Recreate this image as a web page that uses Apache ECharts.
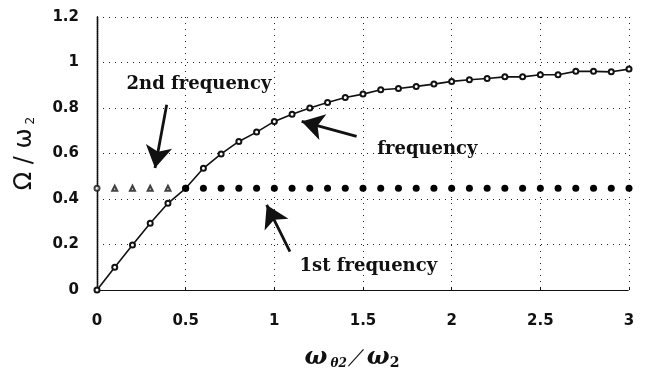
<!DOCTYPE html>
<html><head><meta charset="utf-8">
<script src="https://cdn.jsdelivr.net/npm/echarts@6/dist/echarts.min.js"></script>
<style>html,body{margin:0;padding:0;background:#fff}#c{width:647px;height:376px}</style>
</head><body><div id="c"></div>
<script>
const xValues = [0,0.1,0.2,0.3,0.4,0.5,0.6,0.7,0.8,0.9,1.0,1.1,1.2,1.3,1.4,1.5,1.6,1.7,1.8,1.9,2.0,2.1,2.2,2.3,2.4,2.5,2.6,2.7,2.8,2.9,3.0];
const curveValues = [0,0.10,0.198,0.293,0.381,0.447,0.535,0.598,0.653,0.694,0.741,0.773,0.800,0.824,0.846,0.861,0.880,0.886,0.895,0.905,0.917,0.924,0.930,0.937,0.937,0.946,0.946,0.961,0.961,0.959,0.971];
const flatLevel = 0.447;
const secondX = [0.1,0.2,0.3,0.4];
const startX = [0];
const firstX = [0.5,0.6,0.7,0.8,0.9,1.0,1.1,1.2,1.3,1.4,1.5,1.6,1.7,1.8,1.9,2.0,2.1,2.2,2.3,2.4,2.5,2.6,2.7,2.8,2.9,3.0];
const xTicks = [0,0.5,1,1.5,2,2.5,3];
const yTicks = [0,0.2,0.4,0.6,0.8,1,1.2];
// annotation arrows: [tailX, tailY, tipX, tipY] in data units
const arrows = [[0.393,0.814,0.327,0.536],[1.464,0.675,1.154,0.741],[1.088,0.169,0.957,0.374]];
const notes = [{text:'2nd frequency',x:0.575,y:0.904},{text:'frequency',x:1.863,y:0.618},{text:'1st frequency',x:1.53,y:0.103}];

const chart = echarts.init(document.getElementById('c'));
const tickFont = {fontFamily:'DejaVu Sans',fontWeight:'bold',fontSize:15,color:'#111'};
const dotted = {type:[1,5],color:'#222',width:1};
chart.setOption({
  animation:false,
  grid:{left:97,right:18,top:17,bottom:86,outerBoundsMode:'none',containLabel:false},
  xAxis:[{type:'value',min:0,max:3,interval:0.5,
    axisLine:{onZero:false,lineStyle:{color:'#111',width:1.2,type:[3,1]}},
    axisTick:{inside:true,length:3,lineStyle:{color:'#111'}},
    axisLabel:Object.assign({margin:24,formatter:v=>xTicks.includes(v)?String(v):''},tickFont),
    splitLine:{show:true,lineStyle:dotted},
    name:'{w|ω}{s|θ2}{sl|／}{w|ω}{s2|2}',nameLocation:'middle',nameGap:56,
    nameTextStyle:{padding:[0,22,0,0],rich:{
      w:{fontFamily:'DejaVu Serif',fontWeight:'bold',fontStyle:'italic',fontSize:24,color:'#111'},
      s:{fontFamily:'DejaVu Serif',fontWeight:'bold',fontStyle:'italic',fontSize:12,color:'#111',verticalAlign:'bottom',padding:[8,0,0,3]},
      s2:{fontFamily:'DejaVu Serif',fontWeight:'bold',fontSize:14,color:'#111',verticalAlign:'bottom',padding:[8,0,0,0]},
      sl:{fontFamily:'DejaVu Sans',fontSize:20,color:'#111'}}}},
    {type:'value',min:0,max:3,position:'top',axisLine:{show:true,lineStyle:{color:'#111',width:1.2,type:[1,1]}},
     axisTick:{show:false},axisLabel:{show:false},splitLine:{show:false}}],
  yAxis:[{type:'value',min:0,max:1.2,interval:0.2,
    axisLine:{show:true,onZero:false,lineStyle:{color:'#111',width:1.4}},
    axisTick:{show:false},
    axisLabel:Object.assign({margin:18,formatter:v=>{const t=yTicks.find(q=>Math.abs(q-v)<1e-9);return t===undefined?'':String(t);}},tickFont),
    splitLine:{show:true,lineStyle:dotted},
    name:'{a|Ω / ω}{b|2}',nameLocation:'middle',nameGap:60,nameRotate:90,
    nameTextStyle:{rich:{a:{fontFamily:'DejaVu Sans',fontSize:24,color:'#111'},b:{fontFamily:'DejaVu Sans',fontSize:12,color:'#111',verticalAlign:'bottom',padding:[9,0,0,4]}}}},
    {type:'value',min:0,max:1.2,position:'right',axisLine:{show:true,lineStyle:{color:'#111',width:1.4,type:[1,1]}},
     axisTick:{show:false},axisLabel:{show:false},splitLine:{show:false}}],
  series:[
    {type:'line',data:xValues.map((x,i)=>[x,curveValues[i]]),symbol:'emptyCircle',symbolSize:5,
     lineStyle:{color:'#111',width:1.6},itemStyle:{color:'#111',borderWidth:1},z:5},
    {type:'scatter',data:secondX.map(x=>[x,flatLevel]),symbol:'emptyTriangle',symbolSize:5,itemStyle:{color:'#111',borderWidth:1}},
    {type:'scatter',data:startX.map(x=>[x,flatLevel]),symbol:'emptyCircle',symbolSize:5,itemStyle:{color:'#111',borderWidth:1}},
    {type:'scatter',data:firstX.map(x=>[x,flatLevel]),symbol:'circle',symbolSize:7,itemStyle:{color:'#000',opacity:1},z:6,
     markLine:{silent:true,symbol:['none','arrow'],symbolSize:[20,22],
       lineStyle:{color:'#111',width:2.8,type:'solid'},label:{show:false},
       data:arrows.map(a=>[{coord:[a[0],a[1]]},{coord:[a[2],a[3]]}])},
     markPoint:{silent:true,symbol:'circle',symbolSize:0,
       label:{show:true,position:'inside',fontFamily:'DejaVu Serif',fontWeight:'bold',fontSize:18,color:'#111'},
       data:notes.map(n=>({coord:[n.x,n.y],value:n.text,label:{formatter:n.text}}))}}
  ]
});
</script></body></html>
